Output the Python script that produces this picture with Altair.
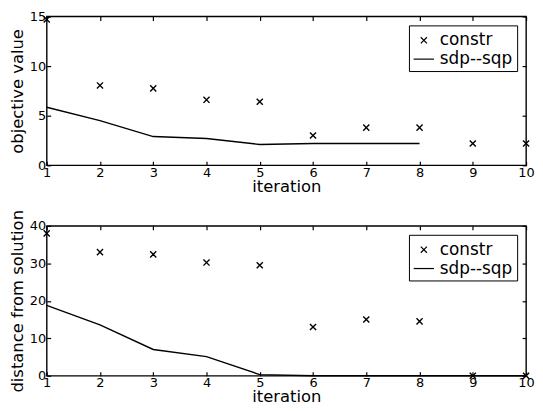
import altair as alt
import pandas as pd

iterations = [1, 2, 3, 4, 5, 6, 7, 8, 9, 10]
series_names = ["constr", "sdp--sqp"]

obj_constr = [14.7, 8.05, 7.75, 6.6, 6.4, 3.0, 3.8, 3.8, 2.2, 2.2]
obj_sdp_iter = [1, 2, 3, 4, 5, 6, 7, 8]
obj_sdp = [5.85, 4.5, 2.9, 2.7, 2.1, 2.2, 2.2, 2.2]

dist_constr = [38.0, 33.0, 32.4, 30.2, 29.5, 13.0, 15.0, 14.5, 0.0, 0.0]
dist_sdp = [18.8, 13.6, 7.0, 5.1, 0.3, 0.0, 0.0, 0.0, 0.0, 0.0]

X_PATH = "M-0.3,-0.3L0.3,0.3M-0.3,0.3L0.3,-0.3"
LINE_PATH = "M-1,0L1,0"
FONT = "DejaVu Sans"
W = 483


def panel(pts_x, pts_y, line_x, line_y, ytitle, ymax, ystep, h):
    pts = pd.DataFrame({"iteration": pts_x, "value": pts_y, "series": series_names[0]})
    ln = pd.DataFrame({"iteration": line_x, "value": line_y, "series": series_names[1]})
    xscale = alt.Scale(domain=[1, 10], nice=False)
    yscale = alt.Scale(domain=[0, ymax], nice=False)
    yvals = list(range(0, ymax + 1, ystep))
    x_main = alt.X("iteration:Q", scale=xscale,
                   axis=alt.Axis(title="iteration", values=iterations, format="d",
                                 orient="bottom", offset=-4, tickSize=4, labelPadding=1,
                                 titlePadding=-1))
    y_main = alt.Y("value:Q", scale=yscale,
                   axis=alt.Axis(title=ytitle, values=yvals, orient="left", offset=-4,
                                 tickSize=4, labelPadding=1, titlePadding=4))
    x_top = alt.X("iteration:Q", scale=xscale,
                  axis=alt.Axis(title=None, values=iterations, labels=False, orient="top",
                                offset=-4, tickSize=4))
    y_right = alt.Y("value:Q", scale=yscale,
                    axis=alt.Axis(title=None, values=yvals, labels=False, orient="right",
                                  offset=-4, tickSize=4))
    line = alt.Chart(ln).mark_line(color="black", strokeWidth=1.4).encode(x=x_main, y=y_main)
    points = alt.Chart(pts).mark_point(filled=False, color="black", size=420,
                                       strokeWidth=1.4, clip=False, opacity=1).encode(
        x=x_top, y=y_right,
        shape=alt.Shape("series:N",
                        scale=alt.Scale(domain=series_names, range=[X_PATH, LINE_PATH]),
                        legend=alt.Legend(title=None, orient="top-right", offset=9,
                                          strokeColor="black", fillColor="white",
                                          padding=4, labelFontSize=17, labelFont=FONT,
                                          symbolSize=420, symbolStrokeColor="black",
                                          symbolStrokeWidth=1.2, rowPadding=0,
                                          labelOffset=5, labelColor="black")),
    )
    return alt.layer(line, points).resolve_axis(x="independent", y="independent").properties(
        width=W, height=h)


top = panel(iterations, obj_constr, obj_sdp_iter, obj_sdp, "objective value", 15, 5, 150)
bottom = panel(iterations, dist_constr, iterations, dist_sdp, "distance from solution", 40, 10, 151)

chart = alt.vconcat(top, bottom, spacing=12).resolve_scale(shape="independent").properties(
    padding=0
).configure_view(
    stroke="black", strokeWidth=1.4
).configure_axis(
    labelFont=FONT, titleFont=FONT, labelFontSize=13, titleFontSize=16.5,
    titleFontWeight="normal", labelColor="black", titleColor="black",
    domain=False, tickColor="black", tickWidth=1.2, grid=False,
).configure_axisX(labelFlush=False)

chart.save("out.html", embed_options={"renderer": "svg", "actions": False})
